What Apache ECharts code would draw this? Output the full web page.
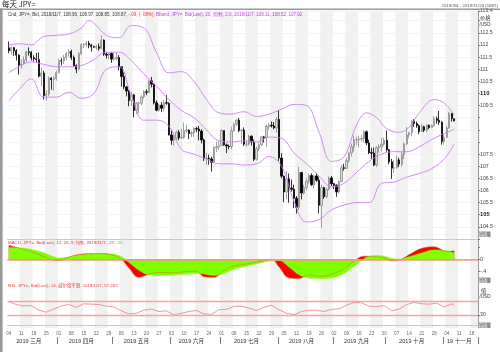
<!DOCTYPE html>
<html><head><meta charset="utf-8">
<script src="https://cdn.jsdelivr.net/npm/echarts@6/dist/echarts.min.js"></script>
<style>html,body{margin:0;padding:0;background:#fff}#c{width:500px;height:352px}</style>
</head><body><div id="c"></div>
<script>
// ---------- DATA ----------
const dates = [
'03-04','03-05','03-06','03-07','03-08','03-11','03-12','03-13','03-14','03-15','03-18','03-19','03-20','03-21','03-22','03-25','03-26','03-27','03-28','03-29',
'04-01','04-02','04-03','04-04','04-05','04-08','04-09','04-10','04-11','04-12','04-15','04-16','04-17','04-18','04-19','04-22','04-23','04-24','04-25','04-26','04-29','04-30',
'05-01','05-02','05-03','05-06','05-07','05-08','05-09','05-10','05-13','05-14','05-15','05-16','05-17','05-20','05-21','05-22','05-23','05-24','05-27','05-28','05-29','05-30','05-31',
'06-03','06-04','06-05','06-06','06-07','06-10','06-11','06-12','06-13','06-14','06-17','06-18','06-19','06-20','06-21','06-24','06-25','06-26','06-27','06-28',
'07-01','07-02','07-03','07-04','07-05','07-08','07-09','07-10','07-11','07-12','07-15','07-16','07-17','07-18','07-19','07-22','07-23','07-24','07-25','07-26','07-29','07-30','07-31',
'08-01','08-02','08-05','08-06','08-07','08-08','08-09','08-12','08-13','08-14','08-15','08-16','08-19','08-20','08-21','08-22','08-23','08-26','08-27','08-28','08-29','08-30',
'09-02','09-03','09-04','09-05','09-06','09-09','09-10','09-11','09-12','09-13','09-16','09-17','09-18','09-19','09-20','09-23','09-24','09-25','09-26','09-27','09-30',
'10-01','10-02','10-03','10-04','10-07','10-08','10-09','10-10','10-11','10-14','10-15','10-16','10-17','10-18','10-21','10-22','10-23','10-24','10-25','10-28','10-29','10-30','10-31',
'11-01','11-04','11-05','11-06','11-07','11-08','11-11','11-12','11-13','11-14','11-15','11-18','11-19','11-20'
];
// [open, high, low, close]
const candles = [
[111.88,112.14,111.66,111.76],[111.76,111.94,111.62,111.89],[111.89,111.92,111.55,111.76],[111.76,111.83,111.36,111.58],[111.58,111.62,110.78,111.17],
[111.17,111.41,111.03,111.22],[111.22,111.52,111.20,111.38],[111.38,111.76,111.29,111.72],[111.72,111.90,111.56,111.69],[111.69,111.75,111.36,111.47],
[111.47,111.58,111.32,111.43],[111.43,111.67,111.27,111.40],[111.40,111.69,110.66,110.71],[110.71,111.07,110.30,110.84],[110.84,110.94,109.75,109.92],
[109.92,110.14,109.70,109.98],[109.98,110.70,109.90,110.63],[110.63,110.67,110.15,110.57],[110.57,110.72,110.11,110.62],[110.62,110.95,110.53,110.86],
[110.86,111.44,110.82,111.35],[111.35,111.46,111.16,111.34],[111.34,111.59,111.22,111.48],[111.48,111.70,111.37,111.65],[111.65,111.83,111.52,111.73],
[111.73,111.80,111.38,111.48],[111.48,111.57,111.10,111.15],[111.15,111.20,110.84,111.00],[111.00,111.70,110.95,111.64],[111.64,112.07,111.60,112.01],
[112.01,112.08,111.87,112.02],[112.02,112.16,111.91,112.07],[112.07,112.17,111.86,112.00],[112.00,112.05,111.72,111.93],[111.93,111.97,111.88,111.91],
[111.91,112.00,111.80,111.93],[111.93,112.06,111.76,111.86],[111.86,112.40,111.82,112.20],[112.20,112.23,111.55,111.62],[111.62,111.70,111.44,111.58],
[111.58,111.69,111.40,111.65],[111.65,111.70,111.26,111.42],[111.42,111.68,111.35,111.43],[111.43,111.69,111.37,111.48],[111.48,111.58,110.96,111.10],
[111.10,111.10,110.28,110.70],[110.70,110.87,110.17,110.27],[110.27,110.30,109.88,110.10],[110.10,110.14,109.47,109.71],[109.71,110.07,109.48,109.94],
[109.94,109.98,109.02,109.30],[109.30,109.65,109.15,109.60],[109.60,109.66,109.19,109.60],[109.60,109.93,109.52,109.86],[109.86,110.14,109.79,110.07],
[110.07,110.17,109.93,110.05],[110.05,110.56,110.02,110.52],[110.52,110.68,110.25,110.38],[110.38,110.40,109.55,109.62],[109.62,109.72,109.27,109.31],
[109.31,109.58,109.24,109.52],[109.52,109.64,109.23,109.39],[109.39,109.73,109.27,109.62],[109.62,109.93,109.53,109.60],[109.60,109.63,108.27,108.29],
[108.29,108.48,107.88,108.07],[108.07,108.30,107.84,108.15],[108.15,108.47,108.06,108.40],[108.40,108.50,108.07,108.17],[108.17,108.54,108.12,108.19],
[108.19,108.80,108.13,108.46],[108.46,108.71,108.38,108.49],[108.49,108.52,108.12,108.35],[108.35,108.45,108.20,108.38],[108.38,108.60,108.20,108.55],
[108.55,108.62,108.40,108.53],[108.53,108.66,108.07,108.45],[108.45,108.53,107.94,108.08],[108.08,108.14,107.21,107.31],[107.31,107.55,107.05,107.33],
[107.33,107.48,107.06,107.30],[107.30,107.40,106.78,107.16],[107.16,107.82,107.13,107.76],[107.76,108.01,107.58,107.80],[107.80,108.04,107.67,107.85],
[107.85,108.53,107.84,108.47],[108.47,108.47,107.85,107.88],[107.88,107.94,107.54,107.83],[107.83,107.89,107.70,107.81],[107.81,108.63,107.70,108.46],
[108.46,108.80,108.43,108.73],[108.73,108.94,108.65,108.90],[108.90,108.99,108.40,108.47],[108.47,108.54,107.92,108.49],[108.49,108.60,107.83,107.91],
[107.91,108.05,107.80,107.91],[107.91,108.29,107.85,108.24],[108.24,108.27,107.85,108.00],[108.00,108.10,107.21,107.29],[107.29,107.82,107.23,107.72],
[107.72,107.98,107.62,107.88],[107.88,108.24,107.82,108.21],[108.21,108.25,107.98,108.18],[108.18,108.72,107.80,108.64],[108.64,108.78,108.51,108.69],
[108.69,108.84,108.60,108.66],[108.66,108.82,108.52,108.58],[108.58,109.02,108.38,108.93],[108.93,109.32,107.22,107.34],[107.34,107.54,106.50,106.59],
[106.59,106.62,105.52,105.94],[105.94,106.80,105.65,106.48],[106.48,106.70,105.50,106.10],[106.10,106.45,105.96,106.05],[106.05,106.24,105.27,105.68],
[105.68,105.77,105.05,105.31],[105.31,106.98,105.21,106.74],[106.74,106.77,105.63,105.90],[105.90,106.23,105.83,106.12],[106.12,106.50,106.00,106.38],
[106.38,106.70,106.28,106.62],[106.62,106.71,106.18,106.24],[106.24,106.63,106.09,106.60],[106.60,106.73,106.36,106.42],[106.42,106.57,105.06,105.39],
[105.39,106.23,104.45,106.12],[106.12,106.15,105.65,105.74],[105.74,106.12,105.67,106.05],[106.05,106.58,106.00,106.52],[106.52,106.60,106.18,106.28],
[106.28,106.31,106.06,106.22],[106.22,106.25,105.74,105.94],[105.94,106.42,105.87,106.37],[106.37,107.05,106.34,106.94],[106.94,107.10,106.82,106.91],
[106.91,107.34,106.89,107.23],[107.23,107.60,107.14,107.55],[107.55,107.93,107.40,107.80],[107.80,108.27,107.60,108.09],[108.09,108.20,107.88,108.09],
[108.09,108.26,107.77,108.12],[108.12,108.30,108.02,108.14],[108.14,108.48,107.99,108.42],[108.42,108.47,107.87,107.96],[107.96,108.09,107.50,107.56],
[107.56,107.76,107.31,107.54],[107.54,107.77,107.00,107.05],[107.05,107.82,106.97,107.77],[107.77,107.90,107.56,107.80],[107.80,108.17,107.61,107.91],
[107.91,108.17,107.85,108.07],[108.07,108.47,107.60,107.68],[107.68,107.71,107.08,107.18],[107.18,107.30,106.48,106.92],[106.92,107.25,106.72,106.94],
[106.94,107.43,106.90,107.26],[107.26,107.35,106.97,107.09],[107.09,107.62,106.98,107.49],[107.49,107.98,107.30,107.92],[107.92,108.62,107.87,108.29],
[108.29,108.42,108.15,108.38],[108.38,108.90,108.24,108.86],[108.86,108.94,108.62,108.76],[108.76,108.84,108.58,108.67],[108.67,108.72,108.32,108.43],
[108.43,108.73,108.42,108.63],[108.63,108.67,108.41,108.48],[108.48,108.74,108.39,108.69],[108.69,108.72,108.53,108.60],[108.60,108.72,108.57,108.67],
[108.67,109.07,108.63,108.96],[108.96,109.05,108.75,108.89],[108.89,109.28,108.70,108.81],[108.81,108.86,107.89,108.02],[108.02,108.33,107.89,108.19],
[108.19,108.67,108.18,108.58],[108.58,109.24,108.55,109.17],[109.17,109.20,108.84,108.97],[108.96,108.97,108.85,108.87]
];
// Bollinger band readings [dayIndex, value]
const bbUpper = [[0,112.00],[4,112.05],[9,112.00],[14,112.35],[19,112.40],[24,112.45],[29,112.70],[32,113.00],[34,112.90],[39,112.40],[44,112.30],[49,112.80],[54,112.70],[59,111.70],[64,110.85],[69,110.90],[74,110.50],[79,109.75],[84,109.20],[89,109.15],[94,109.25],[99,109.05],[104,109.15],[109,109.35],[114,109.55],[119,109.50],[124,108.40],[129,107.20],[134,107.40],[139,108.70],[143,109.20],[147,109.00],[151,108.55],[156,108.40],[160,108.60],[164,109.20],[170,109.75],[174,109.60],[178,109.11]];
const bbMiddle = [[0,110.85],[4,111.10],[9,111.30],[14,111.20],[19,111.10],[24,111.10],[29,111.15],[34,111.40],[39,111.70],[44,111.70],[49,111.35],[54,110.80],[59,110.30],[64,109.75],[69,109.30],[74,109.00],[79,108.50],[84,108.05],[89,108.00],[94,108.05],[99,108.00],[104,108.20],[109,108.15],[114,107.55],[119,107.10],[124,106.60],[129,106.15],[134,106.30],[139,106.75],[144,107.20],[149,107.50],[154,107.60],[159,107.60],[164,107.80],[169,108.10],[174,108.35],[178,108.52]];
const bbLower = [[0,109.70],[4,110.15],[9,110.60],[14,109.85],[19,109.85],[24,110.05],[29,109.80],[34,110.00],[39,111.00],[44,111.10],[49,109.90],[54,108.90],[59,108.90],[64,108.65],[69,107.70],[74,107.50],[79,107.30],[84,107.10],[89,107.10],[94,107.05],[99,107.10],[104,107.40],[109,107.00],[114,105.55],[119,104.70],[124,104.80],[129,105.20],[134,105.40],[139,105.50],[144,105.50],[149,106.30],[154,106.35],[159,106.55],[164,106.70],[169,106.90],[174,107.30],[178,107.92]];
// MACD readings [dayIndex, value]
const macdLine = [[0,0.45],[5,0.34],[10,0.22],[15,0.05],[18,-0.03],[20,-0.04],[23,0.04],[27,0.14],[32,0.18],[37,0.18],[42,0.12],[45,0.00],[48,-0.28],[52,-0.58],[56,-0.48],[60,-0.42],[65,-0.44],[70,-0.40],[75,-0.38],[78,-0.56],[82,-0.58],[86,-0.36],[90,-0.22],[95,-0.15],[100,-0.08],[105,0.00],[108,-0.25],[112,-0.60],[116,-0.62],[120,-0.50],[125,-0.55],[130,-0.45],[134,-0.30],[138,-0.05],[142,0.10],[146,0.08],[150,0.05],[153,-0.05],[156,-0.03],[160,0.15],[165,0.35],[170,0.40],[175,0.25],[178,0.27]];
const signalLine = [[0,0.38],[5,0.36],[10,0.30],[15,0.18],[18,0.08],[20,0.04],[23,0.06],[27,0.12],[32,0.17],[37,0.19],[42,0.16],[45,0.08],[48,-0.10],[52,-0.35],[56,-0.50],[60,-0.52],[65,-0.50],[70,-0.48],[75,-0.46],[78,-0.47],[82,-0.52],[86,-0.45],[90,-0.32],[95,-0.22],[100,-0.13],[105,-0.05],[108,-0.04],[112,-0.25],[116,-0.50],[120,-0.60],[125,-0.62],[130,-0.58],[134,-0.45],[138,-0.22],[142,0.02],[146,0.12],[150,0.10],[153,0.03],[156,0.00],[160,0.08],[165,0.20],[170,0.30],[175,0.27],[178,0.20]];
// RSI readings [dayIndex, value]
const rsiLine = [[0,68],[3,60],[6,56],[9,57],[12,44],[15,38],[18,47],[21,56],[24,60],[27,52],[30,62],[33,61],[36,60],[39,55],[42,53],[45,42],[48,33],[51,35],[54,44],[57,47],[60,40],[63,42],[66,30],[69,35],[72,40],[75,43],[78,33],[81,32],[84,45],[87,46],[90,55],[93,55],[96,50],[99,43],[102,52],[105,58],[108,45],[111,35],[114,31],[117,40],[120,44],[123,44],[126,40],[129,46],[132,48],[135,58],[138,66],[141,65],[144,55],[147,54],[150,57],[153,42],[156,47],[159,60],[162,66],[165,62],[168,61],[171,64],[174,53],[177,62],[178,57.262]];
const priceHidden = [104, 108, 108.5, 109, 113];
const monthStarts = [20, 42, 65, 85, 108, 130, 151, 174];
const monthLabels = {8:'2019 三月', 29:'2019 四月', 51:'2019 五月', 73:'2019 六月', 95:'2019 七月', 117:'2019 八月', 139:'2019 九月', 161:'2019 十月', 180:'19 十一月'};
const priceHeader = ['Cnd, JPY=, Bid, 2019/11/7, 108.96, 108.97, 108.85, 108.87, ', '-.09, (-.08%), ', 'Bband, JPY=, Bid(Last), 20, 指数, 2.0, 2019/11/7, 109.11, 108.52, 107.92'];
const bandLast = {upper:109.11, middle:108.52, lower:107.92, close:108.87};
const macdLast = {macd:0.27, signal:0.20};
const rsiLast = 57.262;

// ---------- CHART ----------
const isMon = dates.map(d => new Date(2019, +d.slice(0,2)-1, +d.slice(3)).getDay() === 1);
const startSet = new Set(monthStarts);
const FONT = 'Liberation Sans, Arial, Noto Sans CJK SC, sans-serif';
const chart = echarts.init(document.getElementById('c'), null, {renderer:'canvas'});
const stripe = {show:true, interval:(i)=>isMon[i], areaStyle:{color:['rgba(255,255,255,0)','#f1f1f1']}};
function baseX(g){
  return {type:'category', gridIndex:g, data:dates, boundaryGap:true,
    axisLine:{show:true, lineStyle:{color:'#c8c8c8', width:1}}, axisTick:{show:false},
    axisLabel:{show:false}, splitLine:{show:false}, splitArea:stripe};
}
const LEFT = 7.5, RIGHT = 22;
const grids = [
  {left:LEFT, right:RIGHT, top:11, height:228},
  {left:LEFT, right:RIGHT, top:239, height:43},
  {left:LEFT, right:RIGHT, top:282, height:46}
];
const x2 = baseX(2);
x2.axisLabel = {show:true, interval:(i)=>isMon[i], formatter:(v)=>v.slice(3), fontSize:4.6, color:'#666', margin:3, fontFamily:FONT, hideOverlap:false};
const xMonth = {type:'category', gridIndex:2, data:dates, boundaryGap:true, position:'bottom', offset:9,
  axisLine:{show:false}, splitLine:{show:false}, splitArea:{show:false},
  axisTick:{show:true, interval:(i)=>startSet.has(i), length:7, lineStyle:{color:'#555', width:0.8}},
  axisLabel:{show:true, interval:(i)=>monthLabels[i]!==undefined, formatter:(v,i)=>monthLabels[i]||'', fontSize:5.6, color:'#333', margin:2, fontFamily:FONT, hideOverlap:false}};

function lbl(bg, fg){
  return {show:true, position:'end', distance:1, backgroundColor:bg, color:fg, fontSize:5, fontFamily:FONT, padding:[1,2,0,2], lineHeight:5};
}
const bandColor = '#d27cf2';

chart.setOption({
  animation:false,
  backgroundColor:'#fff',
  grid:grids,
  xAxis:[baseX(0), baseX(1), x2, xMonth],
  yAxis:[
    {type:'value', gridIndex:0, position:'right', min:104, max:113.4, interval:0.5, scale:true,
      axisLine:{show:true, lineStyle:{color:'#999'}}, axisTick:{show:true, length:2, lineStyle:{color:'#777'}},
      axisLabel:{margin:2, fontSize:5.2, color:'#444', fontFamily:FONT,
        formatter:(v)=> priceHidden.some(h=>Math.abs(h-v)<1e-6) ? '' : (Math.abs(v%5)<1e-6 ? '{b|'+v+'}' : String(v)),
        rich:{b:{fontWeight:'bold', fontSize:5.8, color:'#222', fontFamily:FONT}}},
      splitLine:{show:true, lineStyle:{color:'#e9e9e9', width:0.6}}},
    {type:'value', gridIndex:1, position:'right', min:-0.73, max:0.65,
      axisLine:{show:true, lineStyle:{color:'#999'}},
      axisTick:{show:true, length:2, customValues:[-0.4,0,0.4], lineStyle:{color:'#777'}},
      axisLabel:{margin:2, fontSize:5.2, color:'#444', fontFamily:FONT, customValues:[-0.4,0], formatter:(v)=> v===0?'0':String(v).replace('0.','.')},
      splitLine:{show:false}},
    {type:'value', gridIndex:2, position:'right', min:-7.1, max:124.3,
      axisLine:{show:true, lineStyle:{color:'#999'}},
      axisTick:{show:true, length:2, customValues:[30], lineStyle:{color:'#777'}},
      axisLabel:{margin:2, fontSize:5.2, color:'#444', fontFamily:FONT, customValues:[30]},
      splitLine:{show:false}}
  ],
  series:[
    {type:'candlestick', xAxisIndex:0, yAxisIndex:0, barWidth:1.8,
      data:candles.map(c=>[c[0], c[3], c[2], c[1]]),
      itemStyle:{color:'#dcdcdc', borderColor:'#8a8a8a', color0:'#000', borderColor0:'#000', borderWidth:0.8}},
    {type:'line', xAxisIndex:0, yAxisIndex:0, data:bbUpper, smooth:0.4, symbol:'none', lineStyle:{color:bandColor, width:0.9}},
    {type:'line', xAxisIndex:0, yAxisIndex:0, data:bbMiddle, smooth:0.4, symbol:'none', lineStyle:{color:bandColor, width:0.9}},
    {type:'line', xAxisIndex:0, yAxisIndex:0, data:bbLower, smooth:0.4, symbol:'none', lineStyle:{color:bandColor, width:0.9},
      markLine:{silent:true, symbol:'none', lineStyle:{opacity:0}, z:10,
        data:[
          {yAxis:bandLast.upper, label:Object.assign(lbl('#c43ee6','#f6d8ff'),{formatter:String(bandLast.upper)})},
          {yAxis:bandLast.close, label:Object.assign(lbl('#111','#fff'),{formatter:String(bandLast.close)})},
          {yAxis:bandLast.middle, label:Object.assign(lbl('#c43ee6','#f6d8ff'),{formatter:String(bandLast.middle)})},
          {yAxis:bandLast.lower, label:Object.assign(lbl('#c43ee6','#f6d8ff'),{formatter:String(bandLast.lower)})}
        ]}},
    {type:'line', xAxisIndex:1, yAxisIndex:1, data:macdLine, smooth:0.4, symbol:'none',
      lineStyle:{width:0}, areaStyle:{color:'#ff0000', opacity:1}},
    {type:'line', xAxisIndex:1, yAxisIndex:1, data:signalLine, smooth:0.4, symbol:'none',
      lineStyle:{width:0.5, color:'#80ff00'}, areaStyle:{color:'#80ff00', opacity:1},
      markLine:{silent:true, symbol:'none', z:10,
        data:[{yAxis:0, lineStyle:{color:'#f29a8a', width:1.6, type:'solid'}, label:{show:false}},
              {yAxis:macdLast.signal, lineStyle:{opacity:0}, label:Object.assign(lbl('#7fff00','#333'),{formatter:'.20', offset:[0,-6]})},
              {yAxis:macdLast.macd, lineStyle:{opacity:0}, label:Object.assign(lbl('#ff1a1a','#fff'),{formatter:'.27', offset:[0,1]})}]}},
    {type:'line', xAxisIndex:1, yAxisIndex:1, data:macdLine, smooth:0.4, symbol:'none', lineStyle:{width:0.6, color:'#d0782a'}},
    {type:'line', xAxisIndex:2, yAxisIndex:2, data:rsiLine, symbol:'none', lineStyle:{width:0.7, color:'#ef6a6a'},
      markLine:{silent:true, symbol:'none',
        data:[{yAxis:70, lineStyle:{color:'#f5a3a3', width:1.4, type:'solid'}, label:{show:false}},
              {yAxis:30, lineStyle:{color:'#f5a3a3', width:1.4, type:'solid'}, label:{show:false}},
              {yAxis:rsiLast, lineStyle:{opacity:0}, label:Object.assign(lbl('#e8261e','#fff'),{formatter:String(rsiLast)})}]}}
  ],
  graphic:[
    {type:'rect', shape:{x:0, y:8.5, width:500, height:1.6}, style:{fill:'#9a9a9a'}, z:100},
    {type:'rect', shape:{x:0, y:8.5, width:2.6, height:344}, style:{fill:'#9a9a9a'}, z:100},
    {type:'text', x:2, y:0.5, style:{text:'每天 JPY=', fontSize:7.5, fill:'#222', fontFamily:'Noto Sans CJK SC, sans-serif'}, z:100},
    {type:'text', x:498, y:3.5, style:{text:'2019/3/4 - 2019/11/20 (GMT)', fontSize:4.4, fill:'#555', align:'right', fontFamily:FONT}, z:100},
    {type:'text', x:8, y:12.5, z:100, style:{fontSize:4.5, fontFamily:FONT,
      text:'{a|'+priceHeader[0]+'}{r|'+priceHeader[1]+'}{m|'+priceHeader[2]+'}',
      rich:{a:{fill:'#333', fontSize:4.5}, r:{fill:'#f03030', fontSize:4.5}, m:{fill:'#c040e0', fontSize:4.5}}}},
    {type:'text', x:480, y:15, style:{text:'价格', fontSize:5.2, fill:'#333', fontFamily:'Noto Sans CJK SC, sans-serif'}, z:100},
    {type:'text', x:479.5, y:22, style:{text:'/USD', fontSize:4.6, fill:'#333', fontFamily:FONT}, z:100},
    {type:'text', x:8, y:241, z:100, style:{fontSize:4.4, fontFamily:FONT,
      text:'{r|MACD, JPY=, Bid(Last), 12, 26, 9, 指数, 2019/11/7, .27, }{g|.20}',
      rich:{r:{fill:'#e83030', fontSize:4.4}, g:{fill:'#66cc00', fontSize:4.4}}}},
    {type:'text', x:8, y:284, z:100, style:{text:'RSI, JPY=, Bid(Last), 14, 威尔德平滑, 2019/11/7, 57.262', fontSize:4.4, fill:'#e84040', fontFamily:FONT}},
    {type:'text', x:481, y:288, style:{text:'值', fontSize:5.2, fill:'#333', fontFamily:'Noto Sans CJK SC, sans-serif'}, z:100},
    {type:'text', x:479.5, y:294.5, style:{text:'/USD', fontSize:4.6, fill:'#333', fontFamily:FONT}, z:100},
    {type:'group', x:477, y:231.5, z:100, children:[{type:'rect', shape:{x:0,y:0,width:13.5,height:5.5}, style:{fill:'#8c8c8c'}},{type:'text', x:1.5, y:0.6, style:{text:'自适', fontSize:4.6, fill:'#fff', fontFamily:'Noto Sans CJK SC, sans-serif'}}]},
    {type:'group', x:477, y:277.5, z:100, children:[{type:'rect', shape:{x:0,y:0,width:13.5,height:5.5}, style:{fill:'#8c8c8c'}},{type:'text', x:1.5, y:0.6, style:{text:'自适', fontSize:4.6, fill:'#fff', fontFamily:'Noto Sans CJK SC, sans-serif'}}]},
    {type:'group', x:477, y:322.5, z:100, children:[{type:'rect', shape:{x:0,y:0,width:13.5,height:5.5}, style:{fill:'#8c8c8c'}},{type:'text', x:1.5, y:0.6, style:{text:'自适', fontSize:4.6, fill:'#fff', fontFamily:'Noto Sans CJK SC, sans-serif'}}]}
  ]
});
</script></body></html>
